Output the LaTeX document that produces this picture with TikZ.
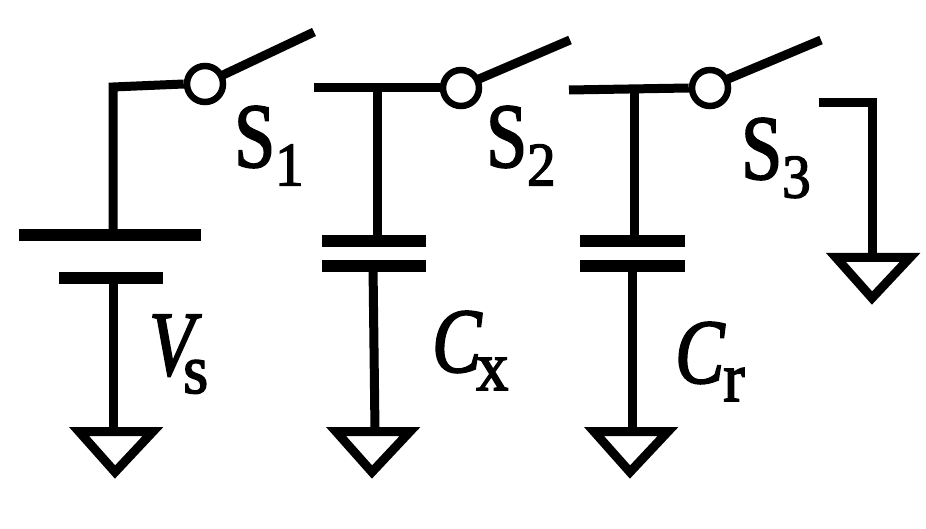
\documentclass[tikz,border=0pt]{standalone}
\usepackage{fontspec}
\newfontfamily\labrm[FakeBold=2,FakeStretch=0.8]{Liberation Serif}
\newfontfamily\labit[FakeBold=2,FakeStretch=0.8]{Liberation Serif Italic}
\newfontfamily\labsb[FakeBold=2.2,FakeStretch=0.92]{Liberation Serif}
\newcommand{\lbS}[1]{{\fontsize{92}{92}\labrm S}\kern0pt\raisebox{-18.5pt}{\fontsize{62}{62}\labsb #1}}
\newcommand{\lbI}[3]{{\fontsize{92}{92}\labit #1}\kern#3\raisebox{-18pt}{\fontsize{70}{70}\labsb #2}}
\tikzset{
  wire/.style={line width=9pt,black,line cap=butt,line join=miter},
  bar/.style={line width=11.5pt,black,line cap=butt},
  sw/.style={circle,draw=black,line width=6.5pt,fill=white,minimum size=36pt,inner sep=0pt},
  gnd/.style={line width=9pt,black,line join=miter,fill=white},
  lab/.style={inner sep=0pt,anchor=base west}
}
\begin{document}
\begin{tikzpicture}[x=1pt,y=-1pt]
\useasboundingbox (0,0) rectangle (926,529);
% Circuit 1
\coordinate (a1) at (113,235);
\coordinate (a2) at (113,87);
\node[sw] (s1) at (205,84) {};
\coordinate (s1e) at (314,32);
\draw[wire] (a1) -- (a2) -- (s1.west);
\draw[wire] (s1) ++(18,-9) -- (s1e);
\coordinate (p1l) at (19,235); \coordinate (p1r) at (201,235);
\coordinate (p2l) at (59,278); \coordinate (p2r) at (163,278);
\draw[bar] (p1l) -- (p1r);
\draw[bar] (p2l) -- (p2r);
\coordinate (g1) at (113,431);
\draw[wire] (113,278) -- (g1);
\draw[gnd] (79,431.5) -- (153,431.5) -- (115,472) -- cycle;
% Circuit 2
\node[sw] (s2) at (461,88) {};
\coordinate (w2) at (314,88);
\coordinate (s2e) at (570,40);
\draw[wire] (w2) -- (s2.west);
\draw[wire] (s2) ++(18,-9) -- (s2e);
\draw[wire] (377,88) -- (377,241);
\draw[bar] (322,241) -- (426,241);
\draw[bar] (322,266) -- (426,266);
\draw[wire] (373,266) -- (375,431);
\draw[gnd] (336,431.5) -- (410,431.5) -- (372,472) -- cycle;
% Circuit 3
\node[sw] (s3) at (710,88) {};
\coordinate (w3) at (569,90);
\coordinate (s3e) at (821,40);
\draw[wire] (w3) -- (s3.west);
\draw[wire] (s3) ++(18,-9) -- (s3e);
\draw[wire] (634,90) -- (634,241);
\draw[bar] (580,241) -- (685,241);
\draw[bar] (580,266) -- (685,266);
\draw[wire] (632,266) -- (632,431);
\draw[gnd] (594,431.5) -- (668,431.5) -- (630,472) -- cycle;
% Ground for S3
\draw[wire] (819,103) -- (872,103) -- (872,257);
\draw[gnd] (836,257.5) -- (910,257.5) -- (872,298) -- cycle;
% Labels
\node[lab] (l1) at (234,167) {\lbS{1}};
\node[lab] (l2) at (486,167) {\lbS{2}};
\node[lab] (l3) at (741,179) {\lbS{3}};
\node[lab] (l4) at (149,375) {\lbI{V}{s}{-11pt}};
\node[lab] (l5) at (432,372) {\lbI{C}{x}{-5pt}};
\node[lab] (l6) at (675,383) {\lbI{C}{r}{-1pt}};
\end{tikzpicture}
\end{document}
